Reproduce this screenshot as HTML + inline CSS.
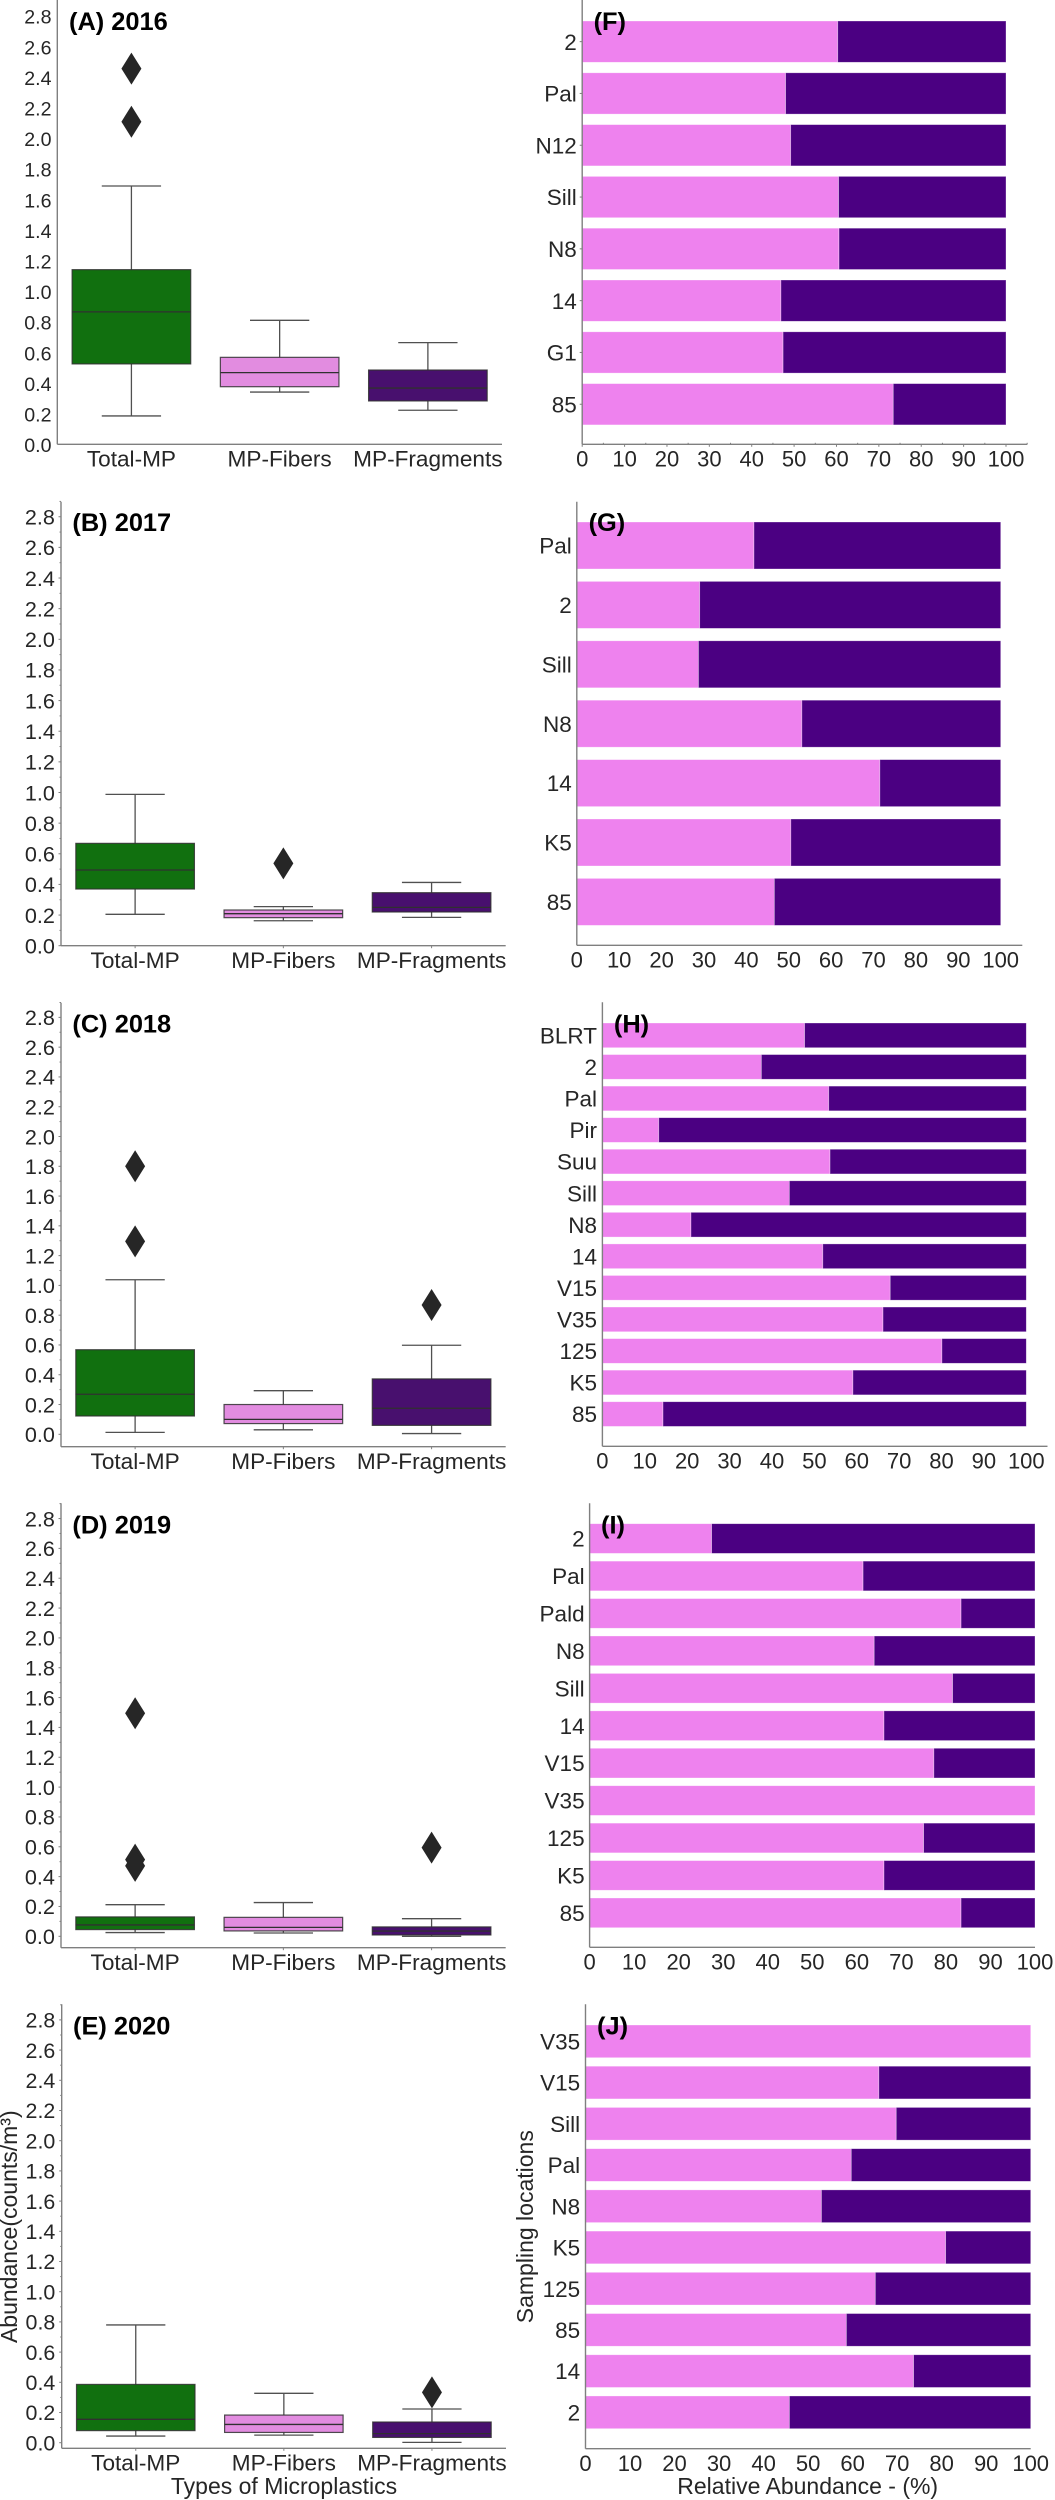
<!DOCTYPE html>
<html lang="en">
<head>
<meta charset="utf-8">
<title>Microplastics abundance and relative abundance 2016-2020</title>
<style>
  html, body { margin: 0; padding: 0; background: #fff; }
  svg { display: block; }
  text { font-family: "Liberation Sans", Arial, sans-serif; fill: #262626; }
  .panel-title { font-weight: bold; font-size: 25.4px; fill: #000; }
  .axis-title { font-size: 23px; }
</style>
</head>
<body>
<svg id="figure" width="1055" height="2500" viewBox="0 0 1055 2500" xmlns="http://www.w3.org/2000/svg">
  <rect x="0" y="0" width="1055" height="2500" fill="#ffffff"/>
  <g id="plots"></g>

  <text class="panel-title" x="69" y="30">(A) 2016</text>
  <text class="panel-title" x="72.4" y="531">(B) 2017</text>
  <text class="panel-title" x="72.4" y="1032.7">(C) 2018</text>
  <text class="panel-title" x="72.4" y="1533.3">(D) 2019</text>
  <text class="panel-title" x="73" y="2034.3">(E) 2020</text>
  <text class="panel-title" x="593.6" y="30">(F)</text>
  <text class="panel-title" x="588.6" y="531">(G)</text>
  <text class="panel-title" x="613.9" y="1032.7">(H)</text>
  <text class="panel-title" x="601" y="1533.3">(I)</text>
  <text class="panel-title" x="597" y="2034.3">(J)</text>

  <text class="axis-title" text-anchor="middle" transform="translate(16.8 2226.7) rotate(-90)">Abundance(counts/m³)</text>
  <text class="axis-title" text-anchor="middle" x="284" y="2494">Types of Microplastics</text>
  <text class="axis-title" text-anchor="middle" transform="translate(533 2226.7) rotate(-90)">Sampling locations</text>
  <text class="axis-title" text-anchor="middle" x="807.7" y="2494">Relative Abundance - (%)</text>
</svg>

<script>
// ---- Shared tick labels and categories ----
const boxCategories = ['Total-MP', 'MP-Fibers', 'MP-Fragments'];
const yTickValues = [0, 0.2, 0.4, 0.6, 0.8, 1.0, 1.2, 1.4, 1.6, 1.8, 2.0, 2.2, 2.4, 2.6, 2.8];
const yTickLabels = ['0.0', '0.2', '0.4', '0.6', '0.8', '1.0', '1.2', '1.4', '1.6', '1.8', '2.0', '2.2', '2.4', '2.6', '2.8'];
const pctTickValues = [0, 10, 20, 30, 40, 50, 60, 70, 80, 90, 100];
const pctTickLabels = ['0', '10', '20', '30', '40', '50', '60', '70', '80', '90', '100'];

// ---- Box statistics: [whisker low, q1, median, q3, whisker high] ----
const total2016 = [0.19, 0.53, 0.87, 1.146, 1.693];
const fibers2016Box = [0.346, 0.381, 0.473, 0.573, 0.815];
const fragments2016Box = [0.227, 0.288, 0.372, 0.49, 0.669];
const total2016Outliers = [2.46, 2.113];
const fibers2016Outliers = [];
const fragments2016Outliers = [];

const total2017 = [0.205, 0.37, 0.494, 0.668, 0.988];
const fibers2017Box = [0.163, 0.183, 0.209, 0.233, 0.255];
const fragments2017Box = [0.185, 0.22, 0.25, 0.346, 0.413];
const total2017Outliers = [];
const fibers2017Outliers = [0.537];
const fragments2017Outliers = [];

const total2018 = [0.013, 0.123, 0.269, 0.568, 1.038];
const fibers2018Box = [0.03, 0.072, 0.10, 0.20, 0.293];
const fragments2018Box = [0.005, 0.06, 0.175, 0.372, 0.598];
const total2018Outliers = [1.8, 1.296];
const fibers2018Outliers = [];
const fragments2018Outliers = [0.868];

const total2019 = [0.025, 0.045, 0.076, 0.13, 0.212];
const fibers2019Box = [0.022, 0.036, 0.06, 0.127, 0.226];
const fragments2019Box = [0.0, 0.009, 0.035, 0.063, 0.118];
const total2019Outliers = [1.495, 0.514, 0.472];
const fibers2019Outliers = [];
const fragments2019Outliers = [0.594];

const total2020 = [0.044, 0.08, 0.155, 0.386, 0.78];
const fibers2020Box = [0.05, 0.068, 0.121, 0.183, 0.327];
const fragments2020Box = [0.002, 0.035, 0.06, 0.137, 0.223];
const total2020Outliers = [];
const fibers2020Outliers = [];
const fragments2020Outliers = [0.333];

// ---- Relative abundance (%) by sampling location ----
const sites2016 = ['2', 'Pal', 'N12', 'Sill', 'N8', '14', 'G1', '85'];
const fibersPct2016 = [60.3, 48, 49.2, 60.5, 60.6, 46.9, 47.4, 73.4];
const fragmentsPct2016 = [39.7, 52, 50.8, 39.5, 39.4, 53.1, 52.6, 26.6];

const sites2017 = ['Pal', '2', 'Sill', 'N8', '14', 'K5', '85'];
const fibersPct2017 = [41.8, 29, 28.7, 53.1, 71.5, 50.5, 46.6];
const fragmentsPct2017 = [58.2, 71, 71.3, 46.9, 28.5, 49.5, 53.4];

const sites2018 = ['BLRT', '2', 'Pal', 'Pir', 'Suu', 'Sill', 'N8', '14', 'V15', 'V35', '125', 'K5', '85'];
const fibersPct2018 = [47.7, 37.5, 53.4, 13.3, 53.7, 44.1, 20.9, 52, 67.9, 66.2, 80.1, 59.1, 14.3];
const fragmentsPct2018 = [52.3, 62.5, 46.6, 86.7, 46.3, 55.9, 79.1, 48, 32.1, 33.8, 19.9, 40.9, 85.7];

const sites2019 = ['2', 'Pal', 'Pald', 'N8', 'Sill', '14', 'V15', 'V35', '125', 'K5', '85'];
const fibersPct2019 = [27.4, 61.4, 83.4, 63.9, 81.5, 66.1, 77.3, 100, 75, 66.1, 83.4];
const fragmentsPct2019 = [72.6, 38.6, 16.6, 36.1, 18.5, 33.9, 22.7, 0, 25, 33.9, 16.6];

const sites2020 = ['V35', 'V15', 'Sill', 'Pal', 'N8', 'K5', '125', '85', '14', '2'];
const fibersPct2020 = [100, 65.9, 69.8, 59.7, 53, 80.9, 65.1, 58.6, 73.7, 45.8];
const fragmentsPct2020 = [0, 34.1, 30.2, 40.3, 47, 19.1, 34.9, 41.4, 26.3, 54.2];

// ---- Styling and panel geometry ----
const AXIS_COLOR = '#7f7f7f';
const WHISKER_COLOR = '#505050';
const EDGE_COLOR = '#303030';
const TEXT_DARK = '#262626';
const BOX_FILLS = ['#11700f', '#e28ce0', '#48106e'];
const FIBER_FILL = '#ee82ee';
const FRAGMENT_FILL = '#4b0082';
const SVG_NS = 'http://www.w3.org/2000/svg';

const boxPanels = [
  { id: 'a', left: 57.3, right: 502, top: 0, bottom: 444.3, y0: 445, perUnit: 153, labelRight: 51.5, tickFont: 19.6, ticks: false,
    boxes: [total2016, fibers2016Box, fragments2016Box], outliers: [total2016Outliers, fibers2016Outliers, fragments2016Outliers] },
  { id: 'b', left: 61, right: 505.7, top: 501.7, bottom: 945.7, y0: 945.7, perUnit: 153.2, labelRight: 54.9, tickFont: 21.6, ticks: true,
    boxes: [total2017, fibers2017Box, fragments2017Box], outliers: [total2017Outliers, fibers2017Outliers, fragments2017Outliers] },
  { id: 'c', left: 61, right: 505.7, top: 1002.7, bottom: 1446.7, y0: 1434.3, perUnit: 148.9, labelRight: 54.9, tickFont: 21.6, ticks: true,
    boxes: [total2018, fibers2018Box, fragments2018Box], outliers: [total2018Outliers, fibers2018Outliers, fragments2018Outliers] },
  { id: 'd', left: 61, right: 505.7, top: 1503.3, bottom: 1947.7, y0: 1936.3, perUnit: 149.2, labelRight: 54.9, tickFont: 21.6, ticks: true,
    boxes: [total2019, fibers2019Box, fragments2019Box], outliers: [total2019Outliers, fibers2019Outliers, fragments2019Outliers] },
  { id: 'e', left: 61.7, right: 506, top: 2004.3, bottom: 2448.3, y0: 2442.7, perUnit: 151, labelRight: 55.3, tickFont: 21.4, ticks: true,
    boxes: [total2020, fibers2020Box, fragments2020Box], outliers: [total2020Outliers, fibers2020Outliers, fragments2020Outliers] }
];

const barPanels = [
  { id: 'f', x0: 582.2, x100: 1006, axisRight: 1027.3, top: 0, bottom: 444.3, barTop: 21, step: 51.8, barHeight: 41.3, labelRight: 576.8, ticks: true,
    sites: sites2016, fibers: fibersPct2016, fragments: fragmentsPct2016 },
  { id: 'g', x0: 576.8, x100: 1000.7, axisRight: 1022.3, top: 501.7, bottom: 945.3, barTop: 522, step: 59.4, barHeight: 47, labelRight: 571.8, ticks: false,
    sites: sites2017, fibers: fibersPct2017, fragments: fragmentsPct2017 },
  { id: 'h', x0: 602.4, x100: 1026.3, axisRight: 1047.5, top: 1002.3, bottom: 1446.3, barTop: 1023, step: 31.56, barHeight: 24.7, labelRight: 597, ticks: false,
    sites: sites2018, fibers: fibersPct2018, fragments: fragmentsPct2018 },
  { id: 'i', x0: 589.6, x100: 1035, axisRight: 1035, top: 1503.3, bottom: 1947.3, barTop: 1523.7, step: 37.43, barHeight: 29.7, labelRight: 584.6, ticks: false,
    sites: sites2019, fibers: fibersPct2019, fragments: fragmentsPct2019 },
  { id: 'j', x0: 585.5, x100: 1030.7, axisRight: 1030.7, top: 2004.3, bottom: 2448.7, barTop: 2025, step: 41.22, barHeight: 32.7, labelRight: 580.2, ticks: false,
    sites: sites2020, fibers: fibersPct2020, fragments: fragmentsPct2020 }
];

const plots = document.getElementById('plots');

function make(parent, tag, attrs, content) {
  const node = document.createElementNS(SVG_NS, tag);
  for (const key in attrs) node.setAttribute(key, attrs[key]);
  if (content !== undefined) node.textContent = content;
  parent.appendChild(node);
  return node;
}

function line(parent, x1, y1, x2, y2, color, width) {
  return make(parent, 'line', { x1: x1, y1: y1, x2: x2, y2: y2, stroke: color, 'stroke-width': width });
}

function drawBoxPanel(p) {
  const group = make(plots, 'g', {});
  
  

  const yScale = v => p.y0 - v * p.perUnit;
  const band = (p.right - p.left) / boxCategories.length;
  const xCat = i => p.left + (i + 0.5) * band;

  // axes
  const yAxis = line(group, p.left, p.top, p.left, p.bottom, AXIS_COLOR, 1.4);
  
  
  const xAxis = line(group, p.left, p.bottom, p.right, p.bottom, AXIS_COLOR, 1.4);
  
  

  // y ticks and labels
  yTickValues.forEach((v, i) => {
    const y = yScale(v);
    if (p.ticks) {
      const tick = line(group, p.left - 2.5, y, p.left, y, AXIS_COLOR, 1);
      
      
      const minor = line(group, p.left - 1.5, yScale(v + 0.1), p.left, yScale(v + 0.1), AXIS_COLOR, 1);
      
      
    }
    const label = make(group, 'text', { x: p.labelRight, y: y + p.tickFont * 0.36, 'text-anchor': 'end', 'font-size': p.tickFont }, yTickLabels[i]);
    
    
  });

  // categories
  boxCategories.forEach((name, i) => {
    const x = xCat(i);
    const s = p.boxes[i];
    const boxHalf = band * 0.4;
    const capHalf = band * 0.2;

    if (p.ticks) {
      const tick = line(group, x, p.bottom, x, p.bottom + 2.5, AXIS_COLOR, 1);
      
      
    }
    const label = make(group, 'text', { x: x, y: p.bottom + 22.2, 'text-anchor': 'middle', 'font-size': 22.6 }, name);
    
    

    const whiskerLow = line(group, x, yScale(s[0]), x, yScale(s[1]), WHISKER_COLOR, 1.3);
    
    
    const whiskerHigh = line(group, x, yScale(s[3]), x, yScale(s[4]), WHISKER_COLOR, 1.3);
    
    
    const capLow = line(group, x - capHalf, yScale(s[0]), x + capHalf, yScale(s[0]), WHISKER_COLOR, 1.3);
    
    
    const capHigh = line(group, x - capHalf, yScale(s[4]), x + capHalf, yScale(s[4]), WHISKER_COLOR, 1.3);
    
    

    const box = make(group, 'rect', {
      x: x - boxHalf, y: yScale(s[3]), width: boxHalf * 2, height: yScale(s[1]) - yScale(s[3]),
      fill: BOX_FILLS[i], stroke: EDGE_COLOR, 'stroke-opacity': 0.85, 'stroke-width': 1.2
    });
    
    
    const median = line(group, x - boxHalf, yScale(s[2]), x + boxHalf, yScale(s[2]), EDGE_COLOR, 1.3);
    
    

    p.outliers[i].forEach(v => {
      const y = yScale(v);
      const pts = [[x, y - 16], [x + 10, y], [x, y + 16], [x - 10, y]].map(q => q.join(',')).join(' ');
      const diamond = make(group, 'polygon', { points: pts, fill: TEXT_DARK });
      
      
    });
  });
}

function drawBarPanel(p) {
  const group = make(plots, 'g', {});
  
  

  const xScale = v => p.x0 + (v / 100) * (p.x100 - p.x0);
  const yBand = i => p.barTop + i * p.step;

  p.sites.forEach((site, i) => {
    const y = yBand(i);
    const fiberBar = make(group, 'rect', {
      x: xScale(0), y: y, width: xScale(p.fibers[i]) - xScale(0), height: p.barHeight,
      fill: FIBER_FILL, stroke: '#ffffff', 'stroke-opacity': 0.45, 'stroke-width': 0.7
    });
    
    
    const fragmentBar = make(group, 'rect', {
      x: xScale(p.fibers[i]), y: y, width: xScale(p.fibers[i] + p.fragments[i]) - xScale(p.fibers[i]), height: p.barHeight,
      fill: FRAGMENT_FILL, stroke: '#ffffff', 'stroke-opacity': 0.45, 'stroke-width': 0.7
    });
    
    

    const cy = y + p.barHeight / 2;
    if (p.ticks) {
      const tick = line(group, p.x0 - 2.5, cy, p.x0, cy, AXIS_COLOR, 1);
      
      
    }
    const label = make(group, 'text', { x: p.labelRight, y: cy + 8.1, 'text-anchor': 'end', 'font-size': 22.5 }, site);
    
    
  });

  const yAxis = line(group, p.x0, p.top, p.x0, p.bottom, AXIS_COLOR, 1.4);
  
  
  const xAxis = line(group, p.x0, p.bottom, p.axisRight, p.bottom, AXIS_COLOR, 1.4);
  
  

  pctTickValues.forEach((v, i) => {
    const x = xScale(v);
    if (p.ticks) {
      const tick = line(group, x, p.bottom, x, p.bottom + 2.5, AXIS_COLOR, 1);
      
      
      const minor = line(group, xScale(v + 5), p.bottom - 1.5, xScale(v + 5), p.bottom, AXIS_COLOR, 1);
      
      
    }
    const label = make(group, 'text', { x: x, y: p.bottom + 22.2, 'text-anchor': 'middle', 'font-size': 22 }, pctTickLabels[i]);
    
    
  });
}

boxPanels.forEach(drawBoxPanel);
barPanels.forEach(drawBarPanel);
</script>
</body>
</html>
